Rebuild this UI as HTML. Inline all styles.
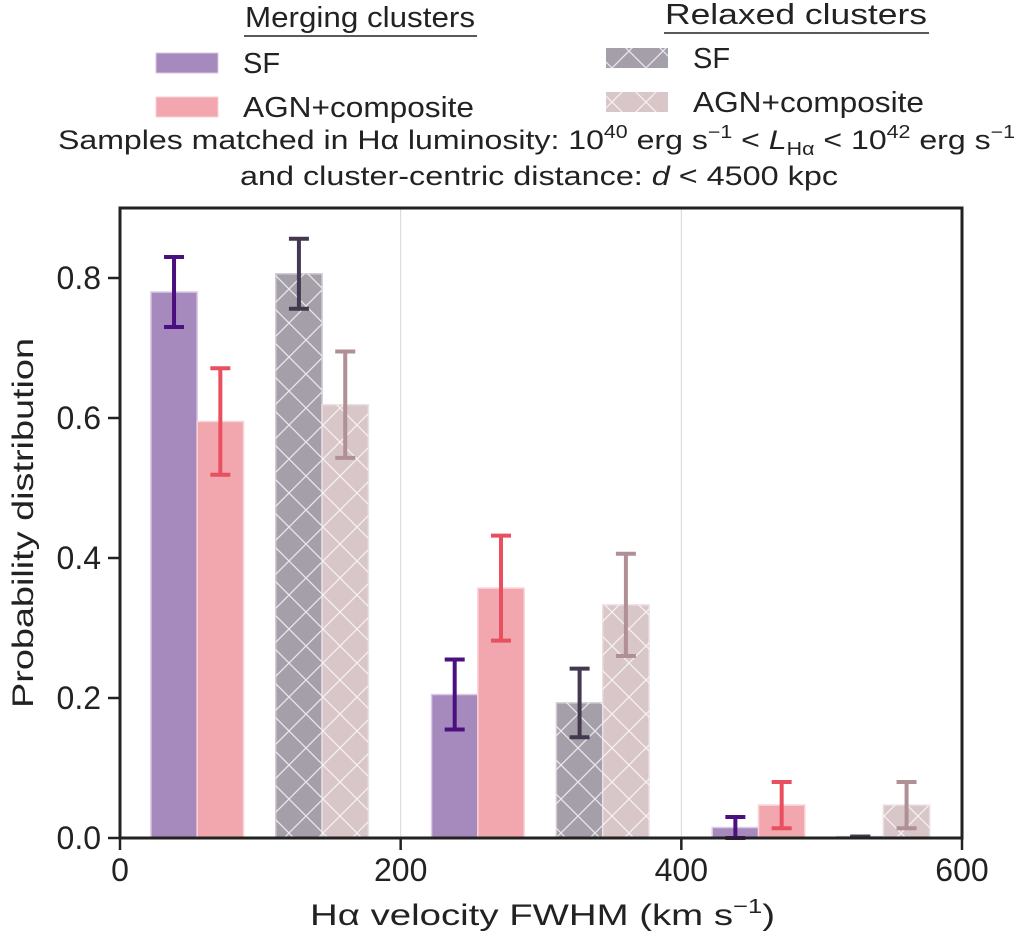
<!DOCTYPE html>
<html><head><meta charset="utf-8"><style>
body{margin:0;background:#fff}
svg text{font-family:"Liberation Sans",sans-serif;fill:#222}
</style></head><body>
<svg id="chart" width="1020" height="945" xmlns="http://www.w3.org/2000/svg">
<defs>
<pattern id="hatch" patternUnits="userSpaceOnUse" width="34" height="34">
<path d="M0,0L34,34M34,0L0,34" stroke="#fff" stroke-width="1.3" opacity="0.75"/>
</pattern>
</defs>
<g id="legend">
<text x="245" y="27" font-size="29" textLength="230" lengthAdjust="spacingAndGlyphs">Merging clusters</text>
<line x1="244" y1="36" x2="477" y2="36" stroke="#222" stroke-width="1.5"/>
<rect x="156" y="53" width="62" height="20" fill="#a68abd" stroke="#d8c8e4"/>
<text x="243" y="73" font-size="29">SF</text>
<rect x="156" y="97" width="62" height="20" fill="#f2a7ae" stroke="#f8d0d4"/>
<text x="243" y="117" font-size="29" textLength="231" lengthAdjust="spacingAndGlyphs">AGN+composite</text>
<text x="665" y="24" font-size="29" textLength="262" lengthAdjust="spacingAndGlyphs">Relaxed clusters</text>
<line x1="664" y1="33" x2="929" y2="33" stroke="#222" stroke-width="1.5"/>
<rect x="606" y="48" width="62" height="20" fill="#a59fa9"/>
<rect x="606" y="48" width="62" height="20" fill="url(#hatch)"/>
<text x="693" y="68" font-size="29">SF</text>
<rect x="606" y="92" width="62" height="20" fill="#d8c6c9"/>
<rect x="606" y="92" width="62" height="20" fill="url(#hatch)"/>
<text x="693" y="112" font-size="29" textLength="231" lengthAdjust="spacingAndGlyphs">AGN+composite</text>
</g>
<text x="58" y="149" font-size="27" textLength="957" lengthAdjust="spacingAndGlyphs">Samples matched in Hα luminosity: 10<tspan font-size="18" dy="-11">40</tspan><tspan dy="11"> erg s</tspan><tspan font-size="18" dy="-11">−1</tspan><tspan dy="11"> &lt; </tspan><tspan font-style="italic">L</tspan><tspan font-size="18" dy="6">Hα</tspan><tspan dy="-6"> &lt; 10</tspan><tspan font-size="18" dy="-11">42</tspan><tspan dy="11"> erg s</tspan><tspan font-size="18" dy="-11">−1</tspan></text>
<text x="240" y="185" font-size="27" textLength="598" lengthAdjust="spacingAndGlyphs">and cluster-centric distance: <tspan font-style="italic">d</tspan> &lt; 4500 kpc</text>
<g id="plot"></g>
<text x="310" y="925" font-size="30" textLength="465" lengthAdjust="spacingAndGlyphs">Hα velocity FWHM (km s<tspan font-size="20" dy="-12">−1</tspan><tspan dy="12">)</tspan></text>
<text transform="translate(33,523) rotate(-90)" font-size="30" text-anchor="middle" textLength="370" lengthAdjust="spacingAndGlyphs">Probability distribution</text>
</svg>
<script>
const binStarts=[0,200,400];
const mergingSF=[0.78,0.205,0.015];
const mergingSFErr=[0.05,0.05,0.015];
const mergingAGN=[0.595,0.357,0.047];
const mergingAGNErr=[0.076,0.075,0.033];
const relaxedSF=[0.806,0.193,0.002];
const relaxedSFErr=[0.05,0.049,0.0];
const relaxedAGN=[0.619,0.333,0.047];
const relaxedAGNErr=[0.076,0.073,0.033];
const xTicks=[0,200,400,600];
const yTicks=[0.0,0.2,0.4,0.6,0.8];
const yTickLabels=["0.0","0.2","0.4","0.6","0.8"];

const NS="http://www.w3.org/2000/svg";
const L=120,R=962,T=208,B=838;
const xs=v=>L+(v-0)/(600)*(R-L);
const ys=v=>B-v/0.9*(B-T);
const g=document.getElementById('plot');
function mk(tag,attrs,parent){const e=document.createElementNS(NS,tag);for(const k in attrs)e.setAttribute(k,attrs[k]);(parent||g).appendChild(e);return e;}

xTicks.slice(1,3).forEach(t=>{
  const l=mk('line',{x1:xs(t),x2:xs(t),y1:T,y2:B,stroke:'#d8d8d8','stroke-width':1});
  
  
});
const W=33;
const series=[
 {vals:mergingSF,err:mergingSFErr,off:22,fill:'#a68abd',edge:'#dccbe8',ec:'#4b1080',hatch:false,name:'merging-sf'},
 {vals:mergingAGN,err:mergingAGNErr,off:22+W,fill:'#f2a7ae',edge:'#f9d3d7',ec:'#e8505f',hatch:false,name:'merging-agn'},
 {vals:relaxedSF,err:relaxedSFErr,off:111,fill:'#a59fa9',edge:'#cfcad2',ec:'#443850',hatch:true,name:'relaxed-sf'},
 {vals:relaxedAGN,err:relaxedAGNErr,off:111+W,fill:'#d8c6c9',edge:'#ebdfe1',ec:'#b08f95',hatch:true,name:'relaxed-agn'}
];
series.forEach(s=>{
  s.vals.forEach((v,i)=>{
    const x0=xs(binStarts[i]+s.off),x1=xs(binStarts[i]+s.off+W);
    const r=mk('rect',{x:x0,y:ys(v),width:x1-x0,height:ys(0)-ys(v),fill:s.fill,stroke:s.edge,'stroke-width':1.5});
    
    
    if(s.hatch){
      const h=mk('rect',{x:x0,y:ys(v),width:x1-x0,height:ys(0)-ys(v),fill:'url(#hatch)'});
      
      
    }
  });
});
series.forEach(s=>{
  s.vals.forEach((v,i)=>{
    const cx=(xs(binStarts[i]+s.off)+xs(binStarts[i]+s.off+W))/2;
    const e=s.err[i],y1=ys(v+e),y2=ys(v-e);
    const eg=mk('g',{stroke:s.ec,'stroke-width':4});
    
    
    mk('line',{x1:cx,x2:cx,y1:y1,y2:y2},eg);
    mk('line',{x1:cx-10,x2:cx+10,y1:y1,y2:y1},eg);
    mk('line',{x1:cx-10,x2:cx+10,y1:y2,y2:y2},eg);
  });
});
const f=mk('rect',{x:L,y:T,width:R-L,height:B-T,fill:'none',stroke:'#222','stroke-width':3});


xTicks.forEach(t=>{
  const l=mk('line',{x1:xs(t),x2:xs(t),y1:B,y2:B+12,stroke:'#222','stroke-width':2.5});
  
  
  const tx=mk('text',{x:xs(t),y:B+43,'font-size':32,'text-anchor':'middle'});
  tx.textContent=t;
  
  
});
yTicks.forEach((t,i)=>{
  const l=mk('line',{x1:L-12,x2:L,y1:ys(t),y2:ys(t),stroke:'#222','stroke-width':2.5});
  
  
  const tx=mk('text',{x:L-19,y:ys(t)+11,'font-size':32,'text-anchor':'end'});
  tx.textContent=yTickLabels[i];
  
  
});
</script>
</body></html>
